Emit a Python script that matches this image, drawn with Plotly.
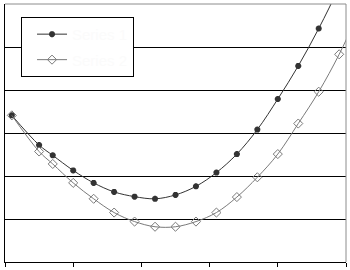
import plotly.graph_objects as go

x_values = [0.1, 0.5, 0.7, 1.0, 1.3, 1.6, 1.9, 2.2, 2.5, 2.8, 3.1, 3.4, 3.7, 4.0, 4.3, 4.6, 4.9, 5.2]
series_1 = [3.41, 2.72, 2.48, 2.13, 1.84, 1.63, 1.52, 1.47, 1.56, 1.76, 2.08, 2.51, 3.08, 3.79, 4.56, 5.43, 6.4, 7.5]
series_2 = [3.41, 2.57, 2.28, 1.84, 1.47, 1.15, 0.94, 0.82, 0.82, 0.94, 1.15, 1.51, 1.97, 2.51, 3.22, 3.96, 4.83, 5.85]
series_names = ["Series 1", "Series 2"]
x_ticks = [0, 1, 2, 3, 4, 5]
y_grid = [1, 2, 3, 4, 5]

fig = go.Figure()
fig.add_trace(go.Scatter(
    x=x_values, y=series_1, name=series_names[0], mode="lines+markers",
    legendgroup="a",
    line=dict(color="#333333", width=1, shape="spline", smoothing=1),
    marker=dict(symbol="asterisk-open", size=5, line=dict(color="#1a1a1a", width=2)),
))
fig.add_trace(go.Scatter(
    x=x_values, y=series_2, name=series_names[1], mode="lines+markers",
    legendgroup="b",
    line=dict(color="#7a7a7a", width=1, shape="spline", smoothing=1),
    marker=dict(symbol="diamond-open", size=7, color="#7a7a7a", line=dict(color="#7a7a7a", width=1)),
))

fig.update_layout(
    width=350, height=270,
    margin=dict(l=5, r=4, t=4, b=5),
    paper_bgcolor="white", plot_bgcolor="white",
    showlegend=True,
    legend=dict(
        x=0.047, y=0.95, xanchor="left", yanchor="top",
        bordercolor="black", borderwidth=1, bgcolor="white",
        font=dict(family="Liberation Sans", size=15, color="#fbfbfb"),
        indentation=10, tracegroupgap=3,
    ),
    xaxis=dict(
        range=[0, 5], tickvals=x_ticks, showticklabels=False,
        ticks="outside", ticklen=4, tickcolor="black", tickwidth=1,
        showline=True, linecolor="black", linewidth=1,
        showgrid=False, zeroline=False,
    ),
    yaxis=dict(
        range=[0, 6], tickvals=y_grid, showticklabels=False,
        ticks="", showline=True, linecolor="black", linewidth=1,
        showgrid=True, gridcolor="black", gridwidth=1, zeroline=False,
    ),
    shapes=[
        dict(type="line", xref="paper", yref="paper", x0=0, x1=1, y0=1, y1=1,
             line=dict(color="#8c8c8c", width=1)),
        dict(type="line", xref="paper", yref="paper", x0=1, x1=1, y0=0, y1=1,
             line=dict(color="#8c8c8c", width=1)),
    ],
)

fig.write_html("out.html")
